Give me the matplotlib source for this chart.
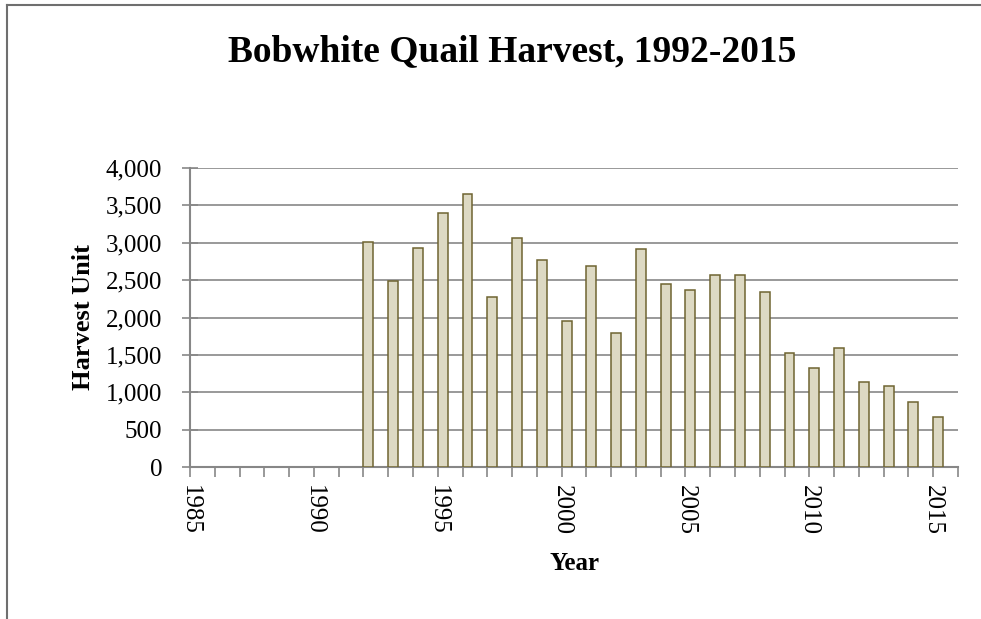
import matplotlib
matplotlib.use("Agg")
import matplotlib.pyplot as plt
from matplotlib.ticker import MultipleLocator, FuncFormatter
from matplotlib.lines import Line2D

years = list(range(1992, 2016))
harvest = [3014, 2492, 2925, 3402, 3648, 2274, 3059, 2765, 1949, 2689,
           1793, 2921, 2453, 2372, 2573, 2573, 2341, 1530, 1324, 1587,
           1142, 1079, 874, 665]

title = "Bobwhite Quail Harvest, 1992-2015"
x_label = "Year"
y_label = "Harvest Unit"

plt.rcParams['font.family'] = ['Liberation Serif', 'DejaVu Serif']

grey = '#878787'
fig = plt.figure(figsize=(9.81, 6.19), dpi=100)
ax = fig.add_axes([190 / 981, 152 / 619, 768 / 981, 299 / 619])

# bars start at the year tick, like the Excel date axis
ax.bar(years, harvest, width=0.4, align='edge', color='#DDD9C3',
       edgecolor='#6F6431', linewidth=1.1, zorder=3)

ax.set_xlim(1985, 2016)
ax.set_ylim(0, 4000)
ax.yaxis.set_major_locator(MultipleLocator(500))
ax.yaxis.set_major_formatter(FuncFormatter(lambda v, p: f"{int(v):,}"))
ax.xaxis.set_major_locator(MultipleLocator(5))
ax.xaxis.set_minor_locator(MultipleLocator(1))

ax.grid(axis='y', color=grey, linewidth=1.2, zorder=0)
for side in ['top', 'right']:
    ax.spines[side].set_visible(False)
for side in ['left', 'bottom']:
    ax.spines[side].set_color(grey)
    ax.spines[side].set_linewidth(1.5)

ax.tick_params(axis='y', which='major', direction='inout', length=12,
               width=1.2, color=grey, labelsize=18, pad=14)
ax.tick_params(axis='x', which='both', direction='out', length=7,
               width=1.2, color=grey, labelsize=18, pad=6)
plt.setp(ax.get_xticklabels(), rotation=270)

ax.set_xlabel(x_label, fontsize=18, fontweight='bold', labelpad=12)
ax.set_ylabel(y_label, fontsize=19, fontweight='bold', labelpad=8)
fig.text(512 / 981, 1 - 52 / 619, title, ha='center', va='center',
         fontsize=27, fontweight='bold')

# chart area border (left and top visible)
fig.add_artist(Line2D([7 / 981, 7 / 981], [0, 1 - 5 / 619],
                      transform=fig.transFigure, color='#6f6f6f', linewidth=1.5))
fig.add_artist(Line2D([7 / 981, 1], [1 - 5 / 619, 1 - 5 / 619],
                      transform=fig.transFigure, color='#6f6f6f', linewidth=1.5))

fig.savefig('out.png', dpi=100)
